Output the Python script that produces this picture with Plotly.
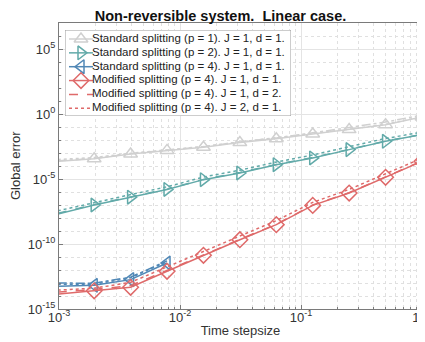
import numpy as np
import plotly.graph_objects as go

# time stepsizes 2^-10 ... 2^0
stepsizes = [2.0 ** -k for k in range(10, -1, -1)]
stepsizes_blue = stepsizes[:4]

# log10 of global error
gray_solid = [-3.64, -3.44, -3.08, -2.80, -2.56, -2.20, -1.90, -1.54, -1.20, -0.82, -0.23]
gray_d2 = [-3.60, -3.42, -3.05, -2.78, -2.52, -2.15, -1.84, -1.45, -1.05, -0.62, -0.08]
gray_j2 = [-3.50, -3.35, -3.02, -2.75, -2.50, -2.15, -1.85, -1.50, -1.17, -0.80, -0.20]

teal_solid = [-7.70, -7.00, -6.40, -5.80, -5.05, -4.54, -3.90, -3.38, -2.74, -2.10, -1.59]
teal_d2 = [-7.65, -6.97, -6.38, -5.78, -5.03, -4.50, -3.88, -3.35, -2.72, -2.08, -1.57]
teal_j2 = [-7.45, -6.80, -6.20, -5.60, -4.85, -4.32, -3.70, -3.15, -2.52, -1.88, -1.40]

blue_solid = [-13.26, -13.18, -12.74, -11.46]
blue_d2 = [-13.00, -13.02, -12.55, -11.30]
blue_j2 = [-13.10, -13.10, -12.60, -11.35]

red_solid = [-13.85, -13.60, -13.33, -12.10, -10.87, -9.67, -8.51, -7.03, -6.08, -4.87, -3.64]
red_d2 = [-13.70, -13.50, -13.20, -12.05, -10.85, -9.64, -8.48, -7.00, -6.05, -4.84, -3.60]
red_j2 = [-13.55, -13.40, -12.95, -11.75, -10.60, -9.40, -8.20, -6.80, -5.80, -4.60, -3.40]

legend_names = [
    "Standard splitting (p = 1). J = 1, d = 1.",
    "Standard splitting (p = 2). J = 1, d = 1.",
    "Standard splitting (p = 4). J = 1, d = 1.",
    "Modified splitting (p = 4). J = 1, d = 1.",
    "Modified splitting (p = 4). J = 1, d = 2.",
    "Modified splitting (p = 4). J = 2, d = 1.",
]

GRAY = "#d0d0d0"
TEAL = "#62aaa9"
BLUE = "#5188b6"
RED = "#df6a6a"

legend_colors = [GRAY, TEAL, BLUE, RED, RED, RED]
legend_dashes = ["solid", "solid", "solid", "solid", "dash", "dot"]
legend_symbols = ["triangle-up-open", "triangle-right-open", "triangle-left-open",
                  "diamond-open", None, None]

FONT = "Liberation Sans, Arial, sans-serif"


def pw(v):
    return [10.0 ** a for a in v]


fig = go.Figure()


def add(x, y, color, dash, symbol=None, name=None):
    mode = "lines+markers" if symbol else "lines"
    kw = {}
    if symbol:
        kw["marker"] = dict(symbol=symbol, size=12, color=color,
                            line=dict(color=color, width=1.5))
    fig.add_trace(go.Scatter(x=x, y=pw(y), mode=mode, name=name, showlegend=False,
                             line=dict(color=color, width=1.5, dash=dash),
                             cliponaxis=False, **kw))


# variants
add(stepsizes, gray_d2, GRAY, "dashdot")
add(stepsizes, gray_j2, GRAY, "dot")
add(stepsizes, teal_d2, TEAL, "dash")
add(stepsizes, teal_j2, TEAL, "dot")
add(stepsizes_blue, blue_d2, BLUE, "dashdot")
add(stepsizes_blue, blue_j2, BLUE, "dot")

add(stepsizes, gray_solid, GRAY, "solid", "triangle-up-open", legend_names[0])
add(stepsizes, teal_solid, TEAL, "solid", "triangle-right-open", legend_names[1])
add(stepsizes_blue, blue_solid, BLUE, "solid", "triangle-left-open", legend_names[2])
add(stepsizes, red_solid, RED, "solid", "diamond-open", legend_names[3])
add(stepsizes, red_d2, RED, "dash", None, legend_names[4])
add(stepsizes, red_j2, RED, "dot", None, legend_names[5])

# ---- legend drawn on an overlay axis (pixel-like units inside the legend box)
LW, LH = 226, 86
fig.add_trace(go.Scatter(x=[0, LW, LW, 0, 0], y=[0, 0, LH, LH, 0], mode="lines",
                         fill="toself", fillcolor="white",
                         line=dict(color="#9a9a9a", width=1),
                         xaxis="x2", yaxis="y2", showlegend=False, hoverinfo="skip",
                         cliponaxis=False))
row_y = [9 + 13.85 * i for i in range(len(legend_names))]
for i, name in enumerate(legend_names):
    fig.add_trace(go.Scatter(x=[4, 28], y=[row_y[i], row_y[i]], mode="lines",
                             line=dict(color=legend_colors[i], width=1.5, dash=legend_dashes[i]),
                             xaxis="x2", yaxis="y2", showlegend=False, hoverinfo="skip"))
    if legend_symbols[i]:
        fig.add_trace(go.Scatter(x=[16], y=[row_y[i]], mode="markers",
                                 marker=dict(symbol=legend_symbols[i], size=12,
                                             color=legend_colors[i],
                                             line=dict(color=legend_colors[i], width=1.5)),
                                 xaxis="x2", yaxis="y2", showlegend=False, hoverinfo="skip"))
fig.add_trace(go.Scatter(x=[27] * len(legend_names), y=row_y, mode="text",
                         text=legend_names, textposition="middle right",
                         textfont=dict(size=11.5, color="#222", family=FONT),
                         xaxis="x2", yaxis="y2", showlegend=False, hoverinfo="skip",
                         cliponaxis=False))

yt = [10.0 ** k for k in (-15, -10, -5, 0, 5)]
ytxt = ["10<sup>%d</sup>" % k for k in (-15, -10, -5, 0, 5)]
xt = [1e-3, 1e-2, 1e-1, 1e0]
xtxt = ["10<sup>%d</sup>" % k for k in (-3, -2, -1, 0)]
yminor = [10.0 ** k for k in range(-15, 8)]
xminor = [m * 10.0 ** k for k in (-3, -2, -1) for m in range(2, 10)]


def axis_common():
    return dict(
        showline=True, linecolor="#7a7a7a", linewidth=1, mirror=True,
        ticks="inside", ticklen=4, tickcolor="#7a7a7a",
        showgrid=True, gridcolor="#e4e4e4", gridwidth=1, zeroline=False,
        tickfont=dict(size=13, color="#333", family=FONT), automargin=False,
    )


xaxis = dict(type="log", range=[-3, 0], tickvals=xt, ticktext=xtxt,
             title=dict(text="Time stepsize", font=dict(size=13, color="#333"), standoff=2),
             minor=dict(tickvals=xminor, showgrid=True, gridcolor="#e0e0e0",
                        griddash="dot", ticks="inside", ticklen=2, tickcolor="#7a7a7a"),
             ticklabelstandoff=-4,
             domain=[0, 1], anchor="y", **axis_common())
yaxis = dict(type="log", range=[-15, 7], tickvals=yt, ticktext=ytxt,
             minor=dict(tickvals=yminor, showgrid=True, gridcolor="#e0e0e0",
                        griddash="dot", ticks="inside", ticklen=2, tickcolor="#7a7a7a"),
             domain=[0, 1], anchor="x", **axis_common())

# legend box geometry in plot-paper fractions
bx0, bx1 = 6 / 363, (6 + LW) / 363
by1, by0 = (286 - 7) / 286, (286 - 7 - LH) / 286

fig.update_layout(
    width=425, height=342,
    margin=dict(l=51, r=11, t=15, b=41),
    paper_bgcolor="white", plot_bgcolor="white",
    font=dict(family=FONT, color="#222"),
    title=dict(text="<b>Non-reversible system.\u00a0 Linear case.</b>", x=0.5, xanchor="center",
               y=1 - 8 / 342, yanchor="middle", yref="container",
               font=dict(size=14.5, color="#111", family=FONT)),
    xaxis=xaxis, yaxis=yaxis,
    xaxis2=dict(domain=[bx0, bx1], anchor="y2", range=[0, LW], visible=False, fixedrange=True),
    yaxis2=dict(domain=[by0, by1], anchor="x2", range=[LH, 0], visible=False, fixedrange=True),
    annotations=[dict(text="Global error", xref="paper", yref="paper",
                      x=(7 - 51) / 363, y=(301 - 158) / 286, xanchor="center", yanchor="middle",
                      textangle=-90, showarrow=False,
                      font=dict(size=13, color="#333", family=FONT))],
    showlegend=False,
)

fig.write_html("out.html")
